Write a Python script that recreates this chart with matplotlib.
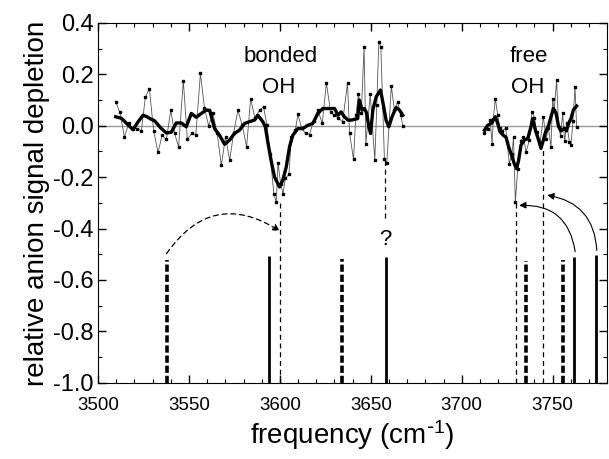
import matplotlib
matplotlib.use("Agg")
import matplotlib.pyplot as plt
from matplotlib.patches import FancyArrowPatch
from matplotlib.ticker import MultipleLocator, FormatStrFormatter

plt.rcParams['font.family'] = ['Liberation Sans', 'DejaVu Sans']
plt.rcParams['axes.unicode_minus'] = False
plt.rcParams['mathtext.default'] = 'regular'

# raw depletion data, bonded OH region
bonded_freq = [3509.7, 3512.0, 3514.5, 3516.9, 3519.0, 3521.4, 3523.8, 3526.0, 3528.2, 3530.6,
               3533.0, 3535.2, 3537.6, 3540.0, 3542.1, 3544.3, 3546.9, 3549.1, 3551.5, 3553.8,
               3556.3, 3558.5, 3560.8, 3563.2, 3565.5, 3567.8, 3570.1, 3572.4, 3574.6, 3576.9,
               3579.3, 3581.7, 3583.9, 3586.3, 3588.8, 3591.0, 3592.9, 3594.5, 3596.7, 3598.0,
               3599.0, 3600.4, 3601.7, 3603.0, 3605.0, 3606.3, 3608.5, 3609.9, 3612.0, 3614.1,
               3616.3, 3618.5, 3620.9, 3623.3, 3625.6, 3627.9, 3630.0, 3632.2, 3634.5, 3637.2,
               3638.3, 3640.5, 3641.8, 3643.2, 3644.8, 3646.3, 3647.3, 3649.7, 3652.2, 3653.3,
               3654.4, 3655.5, 3657.5, 3658.8, 3661.3, 3663.0, 3664.7, 3666.5, 3667.6]
bonded_raw = [0.093, 0.053, -0.043, 0.009, -0.011, -0.011, -0.020, 0.110, 0.144, -0.020,
              -0.104, -0.037, -0.053, 0.061, -0.030, -0.082, 0.175, -0.053, -0.030, -0.034,
              0.204, 0.071, 0.000, 0.048, -0.030, -0.154, -0.043, -0.134, -0.027, 0.061,
              0.002, -0.082, 0.105, 0.030, 0.061, 0.074, 0.002, -0.108, -0.264, -0.297,
              -0.145, -0.225, -0.264, -0.205, -0.189, -0.043, -0.017, 0.044, -0.010, -0.030,
              -0.034, 0.019, 0.061, 0.009, 0.167, 0.052, 0.040, 0.030, 0.015, 0.167,
              -0.027, -0.131, 0.040, 0.122, 0.050, 0.308, -0.069, 0.122, -0.134, 0.080,
              0.327, 0.308, -0.131, -0.144, 0.154, 0.060, 0.093, 0.041, 0.000]

# smoothed curve, bonded OH region
bonded_sm_freq = [3509.7, 3512.9, 3515.6, 3519.2, 3522.0, 3524.7, 3527.0, 3529.3, 3531.0, 3534.8,
                  3537.6, 3540.3, 3543.0, 3545.8, 3548.5, 3551.3, 3554.0, 3556.8, 3559.5, 3561.4,
                  3564.1, 3566.8, 3569.6, 3572.3, 3575.0, 3577.8, 3580.6, 3583.3, 3586.0, 3587.9,
                  3590.6, 3592.0, 3593.5, 3595.3, 3597.1, 3599.8, 3601.6, 3603.5, 3605.3, 3607.1,
                  3609.9, 3612.6, 3615.4, 3618.1, 3620.9, 3623.6, 3627.4, 3630.1, 3631.9, 3633.7,
                  3635.5, 3637.4, 3639.2, 3642.8, 3643.7, 3645.3, 3646.5, 3647.7, 3648.9, 3649.9,
                  3651.1, 3653.0, 3655.3, 3656.6, 3658.4, 3659.9, 3661.7, 3663.9, 3665.8, 3667.6]
bonded_sm = [0.035, 0.029, 0.010, -0.015, 0.015, 0.041, 0.035, 0.025, 0.020, -0.011,
             -0.028, -0.025, 0.011, 0.011, -0.004, 0.048, 0.033, 0.048, 0.061, 0.060,
             -0.011, -0.037, -0.072, -0.056, -0.030, -0.017, 0.009, 0.016, 0.022, 0.041,
             0.016, -0.004, -0.069, -0.140, -0.200, -0.238, -0.212, -0.160, -0.082, -0.037,
             -0.011, -0.011, 0.002, 0.009, 0.048, 0.067, 0.067, 0.067, 0.041, 0.054,
             0.035, 0.022, 0.022, 0.028, 0.100, 0.061, 0.067, 0.050, -0.004, -0.030,
             0.061, 0.113, 0.139, 0.093, 0.022, -0.004, 0.035, 0.071, 0.061, 0.041]

# raw depletion data, free OH region
free_freq = [3712.5, 3714.3, 3715.6, 3716.7, 3717.4, 3718.5, 3719.8, 3721.0, 3722.3, 3724.2,
             3726.2, 3727.7, 3728.5, 3729.5, 3730.8, 3732.4, 3733.9, 3735.4, 3737.2, 3738.7,
             3740.0, 3741.2, 3743.1, 3744.9, 3746.4, 3747.7, 3749.1, 3750.0, 3750.9, 3752.2,
             3753.3, 3754.4, 3755.5, 3756.6, 3757.8, 3759.2, 3760.1, 3761.2, 3762.3, 3763.2]
free_raw = [-0.030, -0.011, 0.022, -0.069, 0.028, 0.106, 0.041, -0.010, -0.020, -0.010,
            -0.147, -0.108, -0.043, -0.297, -0.167, -0.060, -0.043, -0.102, -0.056, 0.054,
            0.032, -0.024, -0.069, 0.035, -0.050, -0.010, -0.082, 0.103, 0.061, 0.178,
            -0.004, -0.040, 0.048, -0.060, 0.010, -0.063, -0.076, 0.020, 0.152, -0.004]

# smoothed curve, free OH region
free_sm_freq = [3712.5, 3714.3, 3716.5, 3718.5, 3719.8, 3721.1, 3722.9, 3724.4, 3725.8, 3727.1,
                3728.9, 3730.2, 3731.3, 3732.6, 3734.4, 3736.3, 3738.1, 3739.0, 3740.5, 3742.3,
                3743.6, 3744.9, 3746.0, 3747.8, 3749.1, 3750.4, 3751.9, 3753.3, 3754.6, 3756.4,
                3757.6, 3758.8, 3760.1, 3761.4, 3763.2]
free_sm = [-0.017, 0.002, 0.010, 0.035, 0.009, -0.024, -0.037, -0.045, -0.082, -0.108,
           -0.147, -0.167, -0.134, -0.076, -0.056, -0.050, -0.004, 0.028, -0.017, -0.056,
           -0.088, -0.056, -0.027, 0.002, 0.035, 0.067, 0.048, -0.004, -0.020, -0.010,
           -0.020, 0.009, 0.028, 0.061, 0.077]

# calculated stick spectrum
solid_sticks = [3594.0, 3658.5, 3762.0, 3774.0]
solid_tops = [-0.508, -0.510, -0.510, -0.503]
dashed_sticks = [3538.0, 3634.0, 3735.5, 3755.7]
dashed_tops = [-0.524, -0.520, -0.528, -0.524]

# thin dashed guide lines (x, top, bottom)
guide_x = [3600.0, 3657.6, 3730.0, 3744.5]
guide_top = [-0.29, -0.134, -0.298, -0.083]
guide_bottom = [-1.0, -0.36, -1.0, -1.0]

fig = plt.figure(figsize=(6.09, 4.59), dpi=100)
ax = fig.add_axes([0.161, 0.166, 0.836, 0.784])

ax.axhline(0, color='#9a9a9a', lw=1.0, zorder=1)

ax.plot(bonded_freq, bonded_raw, color='#555555', lw=0.6, marker='s', ms=1.8,
        mfc='black', mec='black', zorder=2)
ax.plot(free_freq, free_raw, color='#555555', lw=0.6, marker='s', ms=1.8,
        mfc='black', mec='black', zorder=2)
ax.plot(bonded_sm_freq, bonded_sm, color='black', lw=2.4, zorder=3)
ax.plot(free_sm_freq, free_sm, color='black', lw=2.4, zorder=3)

ax.vlines(solid_sticks, -1.0, solid_tops, colors='black', lw=2.0)
ax.vlines(dashed_sticks, -1.0, dashed_tops, colors='black', lw=2.6,
          linestyles=(0, (2.0, 0.8)))
ax.vlines(guide_x, guide_bottom, guide_top, colors='black', lw=0.9,
          linestyles=(0, (4, 3)))

arr1 = FancyArrowPatch((3537.7, -0.497), (3600, -0.41), connectionstyle="arc3,rad=-0.48",
                       arrowstyle='-|>', mutation_scale=10, lw=0.9, ls=(0, (4, 3)),
                       color='black', shrinkA=0, shrinkB=0)
arr2 = FancyArrowPatch((3762.4, -0.49), (3731.6, -0.31), connectionstyle="arc3,rad=0.45",
                       arrowstyle='-|>', mutation_scale=10, lw=0.8, color='black',
                       shrinkA=0, shrinkB=0)
arr3 = FancyArrowPatch((3774.3, -0.485), (3747.0, -0.27), connectionstyle="arc3,rad=0.4",
                       arrowstyle='-|>', mutation_scale=10, lw=0.8, color='black',
                       shrinkA=0, shrinkB=0)
for a in (arr1, arr2, arr3):
    ax.add_patch(a)

ax.text(3600.4, 0.248, 'bonded', fontsize=16, ha='center', va='baseline')
ax.text(3599.5, 0.127, 'OH', fontsize=16, ha='center', va='baseline')
ax.text(3737, 0.248, 'free', fontsize=16, ha='center', va='baseline')
ax.text(3736.5, 0.127, 'OH', fontsize=16, ha='center', va='baseline')
ax.text(3658, -0.465, '?', fontsize=16, ha='center', va='baseline')

ax.set_xlim(3500, 3780)
ax.set_ylim(-1.0, 0.4)
ax.xaxis.set_major_locator(MultipleLocator(50))
ax.xaxis.set_minor_locator(MultipleLocator(10))
ax.yaxis.set_major_locator(MultipleLocator(0.2))
ax.yaxis.set_minor_locator(MultipleLocator(0.1))
ax.yaxis.set_major_formatter(FormatStrFormatter('%.1f'))
ax.tick_params(which='both', direction='in', top=True, right=True)
ax.tick_params(which='major', length=6, width=1)
ax.tick_params(which='minor', length=3, width=0.8)
ax.tick_params(axis='x', labelsize=13.5, pad=10)
ax.tick_params(axis='y', labelsize=17, pad=3)

ax.set_xlabel('frequency (cm$^{\\text{-}1}$)', fontsize=20, labelpad=3)
ax.set_ylabel('relative anion signal depletion', fontsize=20, labelpad=2)

fig.savefig('out.png', dpi=100)
